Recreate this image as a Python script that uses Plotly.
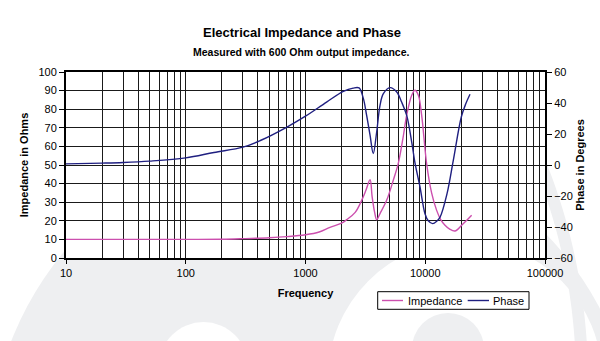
import numpy as np
import plotly.graph_objects as go

# ---------------- data ----------------
freq_imp = [10, 20, 50, 100, 200, 300, 500, 700, 1000, 1300, 1600, 2000, 2210, 2600, 2945,
            3200, 3461, 3600, 3780, 3930, 4190, 4760, 5410, 5960, 6500, 7000, 7710, 8200,
            8760, 9330, 10280, 11300, 12450, 13500, 14620, 16000, 17700, 20140, 22000, 24400]
impedance = [10, 10, 10, 10, 10.1, 10.4, 10.9, 11.5, 12.5, 14, 16.5, 18.7, 20.6, 24.5, 31,
             36.5, 42.1, 33, 24.5, 20.6, 23.9, 31, 41.8, 51, 64, 76.8, 87.5, 90.2,
             87.5, 76.8, 50.5, 35, 25.6, 20.5, 17.6, 15.5, 14.5, 17.6, 20, 23]

freq_phase = [10, 20, 30, 50, 100, 172, 300, 420, 700, 1000, 1500, 2070, 2500, 2800, 3040,
              3240, 3460, 3680, 3930, 4190, 4470, 5080, 5780, 6350, 7000, 7710, 8200, 9040,
              9950, 10600, 11530, 12400, 13300, 15200, 17150, 20000, 21800, 23650]
phase = [0.7, 1.2, 1.6, 2.5, 4.6, 8.1, 11.5, 15.8, 24.5, 31.5, 40.6, 47.5, 49.6, 49.7, 43,
         32, 19.2, 7.4, 21.3, 38.5, 46, 49.9, 47.1, 40.6, 32, 14.8, 1.5, -14.2,
         -31.4, -36, -37.8, -36.5, -33.6, -18.5, 3, 31, 39.5, 45.6]

x_tick_vals = [10, 100, 1000, 10000, 100000]
x_tick_text = ["10", "100", "1000", "10000", "100000"]
minor_digits = [2, 3, 4, 5, 6, 7, 8, 9]
y_imp_ticks = [0, 10, 20, 30, 40, 50, 60, 70, 80, 90, 100]
y_phase_ticks = [-60, -40, -20, 0, 20, 40, 60]

# ---------------- layout helpers ----------------
W, H = 600, 341
PL, PR, PT, PB = 66, 545, 72, 258
FONT = "Arial, Liberation Sans, sans-serif"
GREY = "#eeeff1"
IMP_COLOR = "#cc4fae"
PHASE_COLOR = "#1f1f80"


def fx(x):
    return (x - PL) / (PR - PL)


def fy(y):
    return (PB - y) / (PB - PT)


def circle(cx, cy, r, fill):
    return dict(type="circle", xref="paper", yref="paper", layer="below",
                x0=fx(cx - r), x1=fx(cx + r), y0=fy(cy + r), y1=fy(cy - r),
                fillcolor=fill, line=dict(width=0))


minor_vals = [d * 10 ** k for k in range(1, 5) for d in minor_digits]

fig = go.Figure()
fig.add_trace(go.Scatter(x=freq_imp, y=impedance, name="Impedance", mode="lines",
                         line=dict(color=IMP_COLOR, width=1.4, shape="spline", smoothing=1.0),
                         yaxis="y", showlegend=False))
fig.add_trace(go.Scatter(x=freq_phase, y=phase, name="Phase", mode="lines",
                         line=dict(color=PHASE_COLOR, width=1.4, shape="spline", smoothing=1.0),
                         yaxis="y2", showlegend=False))

# background watermark (faint logo)
shapes = []
shapes.append(circle(313, 459, 324, GREY))
shapes.append(circle(465, 378, 137, "white"))
shapes.append(circle(448, 349, 36, GREY))
shapes.append(circle(203.5, 366.5, 44.5, "white"))
ang = np.linspace(np.arcsin((380 - 150) / 582), np.arcsin((380 - 350) / 582), 30)
pts = [(582 * np.cos(a), 380 - 582 * np.sin(a)) for a in ang]
path = "M " + " L ".join(f"{fx(x):.4f},{fy(y):.4f}" for x, y in pts)
shapes.append(dict(type="path", xref="paper", yref="paper", layer="below", path=path,
                   line=dict(color=GREY, width=12)))
# white plot area
shapes.append(dict(type="rect", xref="paper", yref="paper", layer="below",
                   x0=0, x1=1, y0=0, y1=1, fillcolor="white", line=dict(width=0)))

# manual legend
lg_y = 300.5
shapes.append(dict(type="rect", xref="paper", yref="paper", x0=fx(377.7), x1=fx(529),
                   y0=fy(309.3), y1=fy(291.7), line=dict(color="black", width=1),
                   fillcolor="white"))
shapes.append(dict(type="line", xref="paper", yref="paper", x0=fx(382), x1=fx(403),
                   y0=fy(lg_y), y1=fy(lg_y), line=dict(color=IMP_COLOR, width=1.4)))
shapes.append(dict(type="line", xref="paper", yref="paper", x0=fx(467.7), x1=fx(489),
                   y0=fy(lg_y), y1=fy(lg_y), line=dict(color=PHASE_COLOR, width=1.4)))

annotations = [
    dict(text="<b>Electrical Impedance and Phase</b>", x=fx(302), y=fy(33), xref="paper",
         yref="paper", showarrow=False, font=dict(size=13, color="black", family=FONT),
         xanchor="center", yanchor="middle"),
    dict(text="<b>Measured with 600 Ohm output impedance.</b>", x=fx(301), y=fy(52),
         xref="paper", yref="paper", showarrow=False,
         font=dict(size=10.5, color="black", family=FONT), xanchor="center", yanchor="middle"),
    dict(text="Impedance", x=fx(405.5), y=fy(lg_y), xref="paper", yref="paper", showarrow=False,
         font=dict(size=11, color="black", family=FONT), xanchor="left", yanchor="middle"),
    dict(text="Phase", x=fx(491), y=fy(lg_y), xref="paper", yref="paper", showarrow=False,
         font=dict(size=11, color="black", family=FONT), xanchor="left", yanchor="middle"),
]

grid = dict(gridcolor="#1a1a1a", gridwidth=1.3)
fig.update_layout(
    width=W, height=H,
    margin=dict(l=PL, r=W - PR, t=PT, b=H - PB, pad=0),
    paper_bgcolor="white", plot_bgcolor="white",
    font=dict(family=FONT, size=11, color="black"),
    shapes=shapes, annotations=annotations,
    xaxis=dict(type="log", range=[1, 5], tickvals=x_tick_vals, ticktext=x_tick_text,
               showgrid=True, **grid, zeroline=False,
               showline=True, linecolor="black", linewidth=2, mirror=True,
               ticks="outside", ticklen=4, tickwidth=1.3, tickcolor="black",
               tickfont=dict(size=11),
               minor=dict(tickvals=minor_vals, showgrid=True, gridcolor="#1a1a1a",
                          gridwidth=1.3, ticks=""),
               title=dict(text="<b>Frequency</b>", font=dict(size=11), standoff=11)),
    yaxis=dict(range=[0, 100], tickvals=y_imp_ticks, showgrid=True, **grid, zeroline=False,
               showline=True, linecolor="black", linewidth=2,
               ticks="outside", ticklen=5, tickwidth=1.3, tickcolor="black",
               tickfont=dict(size=11),
               title=dict(text="<b>Impedance in Ohms</b>", font=dict(size=11), standoff=8)),
    yaxis2=dict(range=[-60, 60], tickvals=y_phase_ticks, overlaying="y", side="right",
                showgrid=False, zeroline=False, showline=True, linecolor="black", linewidth=2,
                ticks="outside", ticklen=5, tickwidth=1.3, tickcolor="black",
                tickfont=dict(size=11),
                title=dict(text="<b>Phase in Degrees</b>", font=dict(size=11), standoff=4)),
)

fig.write_html("out.html")
